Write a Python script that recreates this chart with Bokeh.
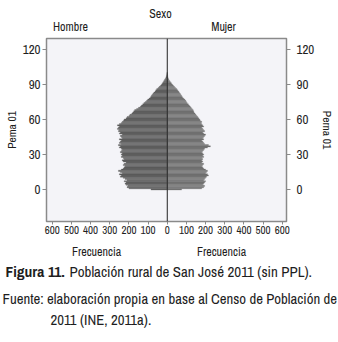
from bokeh.plotting import figure
from bokeh.layouts import column
from bokeh.models import (Range1d, LinearAxis, FixedTicker, CustomJSTickFormatter, Span,
                          ColumnDataSource)
from bokeh.core.properties import value
from bokeh.embed import file_html
from bokeh.resources import INLINE

ages = list(range(0, 101))
hombre = [85,
          200, 210, 205, 215,
          220, 215, 225, 210, 220,
          230, 245, 240, 250, 235,
          245, 255, 240, 230, 225,
          220, 230, 225, 215, 230,
          235, 225, 230, 240, 235,
          240, 235, 245, 240, 235,
          240, 250, 245, 255, 240,
          250, 245, 240, 250, 235,
          240, 245, 235, 250, 245,
          255, 250, 260, 255, 250,
          260, 250, 240, 235, 228,
          225, 215, 210, 200, 195,
          185, 180, 175, 170, 160,
          150, 140, 135, 128, 122,
          115, 108, 102, 95, 88,
          84, 80, 75, 70, 64,
          60, 55, 48, 42, 35,
          30, 26, 22, 18, 14,
          10, 7, 5, 3, 2,
          1]
mujer = [75,
         180, 190, 195, 185,
         190, 195, 200, 190, 195,
         200, 205, 215, 210, 200,
         205, 210, 200, 190, 185,
         180, 185, 190, 180, 185,
         180, 185, 180, 190, 185,
         190, 185, 180, 185, 190,
         195, 210, 225, 215, 195,
         190, 185, 180, 190, 185,
         190, 195, 200, 190, 185,
         195, 190, 185, 180, 190,
         185, 180, 175, 180, 172,
         170, 165, 160, 155, 150,
         145, 140, 138, 135, 130,
         125, 120, 115, 110, 104,
         100, 97, 92, 86, 80,
         76, 72, 68, 63, 60,
         55, 50, 44, 38, 32,
         27, 22, 18, 13, 9,
         6, 4, 3, 2, 1,
         0]
x_ticks = [-600, -500, -400, -300, -200, -100, 0, 100, 200, 300, 400, 500, 600]
y_ticks = [0, 30, 60, 90, 120]
head_texts = ["Sexo", "Hombre", "Mujer"]
caption_bold = "Figura 11."
caption_rest = "Población rural de San José 2011 (sin PPL)."
source_1 = "Fuente: elaboración propia en base al Censo de Población de"
source_2 = "2011 (INE, 2011a)."

FONT = "Archivo Narrow"
TXT = "#1e1e1e"


def text_fig(h, y0):
    f = figure(width=338, height=h, output_backend="svg", toolbar_location=None,
               x_range=Range1d(0, 338), y_range=Range1d(y0 + h, y0),
               min_border=0, frame_align=False)
    f.axis.visible = False
    f.grid.visible = False
    f.outline_line_color = None
    f.background_fill_color = "white"
    return f


def txt(f, x, y, s, size, align="center", style="normal"):
    f.text(x=[x], y=[y], text=[s], text_font=value(FONT), text_font_size=size,
           text_color=TXT, text_align=align, text_baseline="middle",
           text_font_style=style)


# --- header ---
top = text_fig(37, 0)
txt(top, 160, 13, head_texts[0], "12px")
txt(top, 70, 26, head_texts[1], "12px")
txt(top, 223, 26, head_texts[2], "12px")

# --- main pyramid ---
p = figure(width=338, height=201, output_backend="svg", toolbar_location=None,
           x_range=Range1d(-630, 622), y_range=Range1d(-27.5, 129.5),
           min_border_left=43, min_border_right=51, min_border_top=1,
           min_border_bottom=17, frame_align=False)
p.background_fill_color = "#f4f4f8"
p.border_fill_color = "white"
p.outline_line_color = "#8a8a8a"
p.outline_line_width = 1.5
p.grid.visible = False

src = ColumnDataSource(dict(age=ages, h=[-v for v in hombre], m=mujer))
p.hbar(y="age", left="h", right=0, height=1, source=src,
       fill_color="#4e4e4e", line_color="#7c7c7c", line_width=0.35)
p.hbar(y="age", left=0, right="m", height=1, source=src,
       fill_color="#5e5e5e", line_color="#939393", line_width=0.35)
p.add_layout(Span(location=0, dimension="height", line_color="#222222", line_width=1))

xa = p.xaxis[0]
xa.ticker = FixedTicker(ticks=x_ticks)
xa.formatter = CustomJSTickFormatter(code="return Math.abs(tick).toString();")

ya = p.yaxis[0]
ya.ticker = FixedTicker(ticks=y_ticks)
ya.axis_label = "Pema 01"
ry = LinearAxis(ticker=FixedTicker(ticks=y_ticks), axis_label="Perna 01")
p.add_layout(ry, "right")

for ax in [xa, ya, ry]:
    ax.axis_line_color = None
    ax.major_tick_line_color = "#8a8a8a"
    ax.major_tick_in = 0
    ax.major_tick_out = 4
    ax.minor_tick_line_color = None
    ax.major_label_text_font = FONT
    ax.major_label_text_color = TXT
    ax.axis_label_text_font = FONT
    ax.axis_label_text_font_style = "normal"
    ax.axis_label_text_color = TXT
    ax.axis_label_text_font_size = "11.5px"
    ax.axis_label_standoff = 0
xa.major_label_text_font_size = "11px"
xa.major_label_standoff = 1
xa.major_tick_out = 3
ya.major_label_text_font_size = "13px"
ry.major_label_text_font_size = "13px"
ya.major_label_standoff = 2
ry.major_label_standoff = 6
ry.axis_label_standoff = 2

# --- captions ---
bot = text_fig(104, 238)
txt(bot, 96, 251, "Frecuencia", "12px")
txt(bot, 221, 251, "Frecuencia", "12px")
txt(bot, 5, 271, caption_bold, "15.5px", align="left", style="bold")
txt(bot, 69, 271, caption_rest, "15px", align="left")
txt(bot, 2, 298, source_1, "14.8px", align="left")
txt(bot, 50, 319, source_2, "14.8px", align="left")

layout = column(top, p, bot, spacing=0)
open("out.html", "w").write(file_html(layout, INLINE))
